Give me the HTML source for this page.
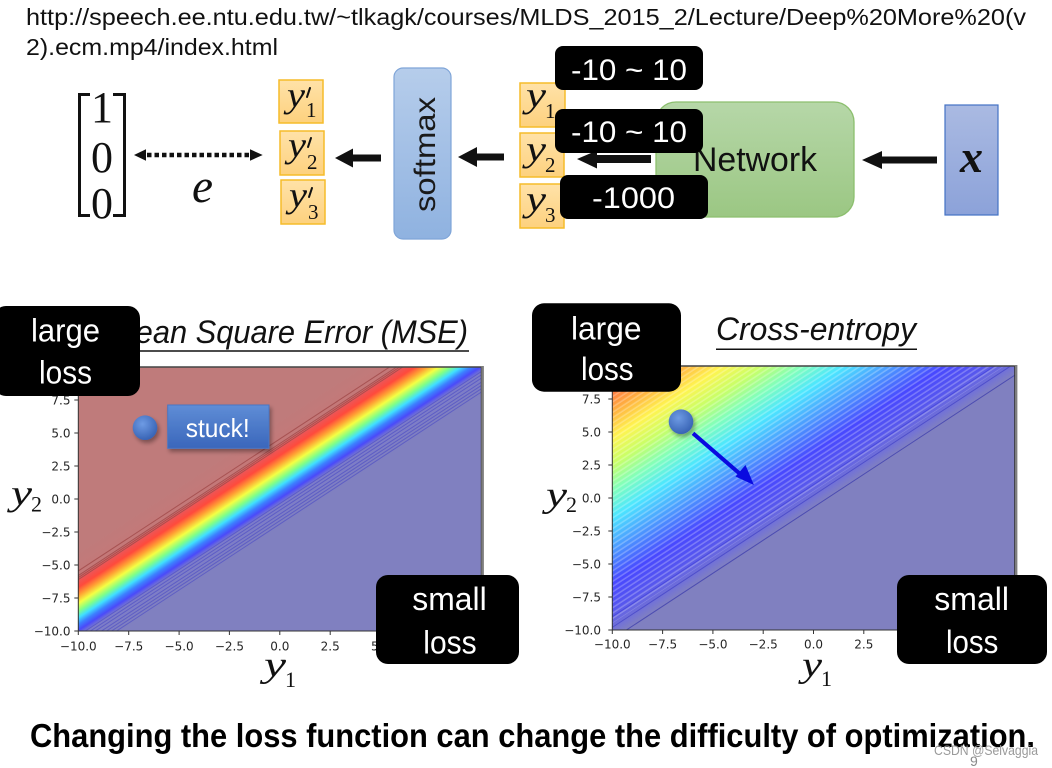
<!DOCTYPE html>
<html>
<head>
<meta charset="utf-8">
<style>
  html,body{margin:0;padding:0;background:#fff;overflow:hidden;}
  svg{display:block;}
</style>
</head>
<body>
<svg width="1052" height="768" viewBox="0 0 1052 768" xmlns="http://www.w3.org/2000/svg">
  <defs>
    <linearGradient id="gmse" gradientUnits="userSpaceOnUse" x1="1" y1="-1" x2="-3" y2="3">
      <stop offset="0" stop-color="#8080C0"/>
      <stop offset="0.2" stop-color="#7C7CCB"/>
      <stop offset="0.256" stop-color="#4A4AFA"/>
      <stop offset="0.3125" stop-color="#3C80FF"/>
      <stop offset="0.375" stop-color="#40E0FF"/>
      <stop offset="0.4375" stop-color="#80FF88"/>
      <stop offset="0.5125" stop-color="#F4FF44"/>
      <stop offset="0.5875" stop-color="#FFA034"/>
      <stop offset="0.6625" stop-color="#FF4A3C"/>
      <stop offset="0.725" stop-color="#EE5454"/>
      <stop offset="0.775" stop-color="#C47878"/>
      <stop offset="1" stop-color="#BF7B7B"/>
    </linearGradient>
    <linearGradient id="gce" gradientUnits="userSpaceOnUse" x1="1" y1="-1" x2="-11" y2="11">
      <stop offset="0" stop-color="#8080C0"/>
      <stop offset="0.054" stop-color="#8080C0"/>
      <stop offset="0.083" stop-color="#7474D4"/>
      <stop offset="0.146" stop-color="#5656EE"/>
      <stop offset="0.229" stop-color="#4848FF"/>
      <stop offset="0.333" stop-color="#4C98FF"/>
      <stop offset="0.4375" stop-color="#4CE6FF"/>
      <stop offset="0.521" stop-color="#80FFBC"/>
      <stop offset="0.604" stop-color="#C8FF68"/>
      <stop offset="0.6875" stop-color="#FFF450"/>
      <stop offset="0.771" stop-color="#FFB040"/>
      <stop offset="0.854" stop-color="#FF6C44"/>
      <stop offset="0.917" stop-color="#FF5046"/>
      <stop offset="1" stop-color="#FF4A46"/>
    </linearGradient>
    <pattern id="stripes" patternUnits="userSpaceOnUse" width="1" height="0.2828" patternTransform="rotate(45)">
      <rect x="0" y="0" width="1" height="0.1" fill="#ffffff" fill-opacity="0.25"/>
    </pattern>
    <clipPath id="clipD" clipPathUnits="userSpaceOnUse">
      <rect x="-10" y="-10" width="20" height="20"/>
    </clipPath>
    <linearGradient id="gyb" x1="0" y1="0" x2="0" y2="1">
      <stop offset="0" stop-color="#FFE2A8"/>
      <stop offset="1" stop-color="#FDD17E"/>
    </linearGradient>
    <linearGradient id="gsoft" x1="0" y1="0" x2="0" y2="1">
      <stop offset="0" stop-color="#B6CDEB"/>
      <stop offset="1" stop-color="#8FB2E0"/>
    </linearGradient>
    <linearGradient id="gnet" x1="0" y1="0" x2="0" y2="1">
      <stop offset="0" stop-color="#B6D7A8"/>
      <stop offset="1" stop-color="#9BC783"/>
    </linearGradient>
    <linearGradient id="gx" x1="0" y1="0" x2="0" y2="1">
      <stop offset="0" stop-color="#AABAE2"/>
      <stop offset="1" stop-color="#8CA2D9"/>
    </linearGradient>
    <linearGradient id="gstuck" x1="0" y1="0" x2="0" y2="1">
      <stop offset="0" stop-color="#5F8DD6"/>
      <stop offset="1" stop-color="#3A66BB"/>
    </linearGradient>
    <radialGradient id="gball" cx="0.4" cy="0.35" r="0.7">
      <stop offset="0" stop-color="#6E9BE4"/>
      <stop offset="1" stop-color="#3560B2"/>
    </radialGradient>
    <filter id="shadow" x="-50%" y="-50%" width="200%" height="200%">
      <feDropShadow dx="2" dy="3" stdDeviation="2" flood-color="#000" flood-opacity="0.35"/>
    </filter>
  </defs>

  <!-- URL -->
  <g font-family="'Liberation Sans', sans-serif" font-size="23" fill="#111">
    <text x="26" y="25" textLength="1000" lengthAdjust="spacingAndGlyphs">http://speech.ee.ntu.edu.tw/~tlkagk/courses/MLDS_2015_2/Lecture/Deep%20More%20(v</text>
    <text x="26" y="55" textLength="252" lengthAdjust="spacingAndGlyphs">2).ecm.mp4/index.html</text>
  </g>

  <!-- matrix -->
  <g stroke="#111" stroke-width="3" fill="none">
    <polyline points="90,94.5 79.5,94.5 79.5,215.5 90,215.5"/>
    <polyline points="113,94.5 124.5,94.5 124.5,215.5 113,215.5"/>
  </g>
  <g font-family="'Liberation Serif', serif" font-size="44" fill="#111" text-anchor="middle">
    <text x="102" y="122">1</text>
    <text x="102" y="172">0</text>
    <text x="102" y="218">0</text>
  </g>

  <!-- dotted double arrow -->
  <line x1="147" y1="155" x2="249" y2="155" stroke="#111" stroke-width="4.5" stroke-dasharray="4.5 3"/>
  <polygon points="134,155 146,149.3 146,160.7" fill="#111"/>
  <polygon points="262.7,155 250,149.3 250,160.7" fill="#111"/>
  <text x="192" y="202" font-family="'Liberation Serif', serif" font-style="italic" font-size="48" fill="#111" textLength="21" lengthAdjust="spacingAndGlyphs">e</text>

  <!-- y' boxes -->
  <g stroke="#F5BC2A" stroke-width="1.5" fill="url(#gyb)">
    <rect x="279" y="80" width="44" height="43"/>
    <rect x="280" y="131" width="44" height="44"/>
    <rect x="281" y="180" width="44" height="44"/>
  </g>
  <g font-family="'Liberation Serif', serif" fill="#111">
    <text x="287" y="107" font-size="36" font-style="italic" textLength="18" lengthAdjust="spacingAndGlyphs">y</text>
    <text x="306" y="117" font-size="21">1</text>
    <text x="288" y="157" font-size="36" font-style="italic" textLength="18" lengthAdjust="spacingAndGlyphs">y</text>
    <text x="307" y="169" font-size="21">2</text>
    <text x="289" y="207" font-size="36" font-style="italic" textLength="18" lengthAdjust="spacingAndGlyphs">y</text>
    <text x="308" y="219" font-size="21">3</text>
  </g>
  <g stroke="#111" stroke-width="2" stroke-linecap="round">
    <line x1="310" y1="88" x2="307" y2="97"/>
    <line x1="311" y1="138" x2="308" y2="147"/>
    <line x1="312" y1="188" x2="309" y2="197"/>
  </g>

  <!-- arrows -->
  <polygon points="335,158 353,148.5 353,167.5" fill="#111"/>
  <rect x="352" y="154.5" width="29" height="7" fill="#111"/>
  <polygon points="458,157 477,147 477,167" fill="#111"/>
  <rect x="476" y="153.5" width="28" height="7" fill="#111"/>

  <!-- softmax -->
  <rect x="394" y="68" width="57" height="171" rx="9" fill="url(#gsoft)" stroke="#7FA5D8" stroke-width="1.2"/>
  <text transform="translate(435,154.5) rotate(-90)" x="-57.5" y="0" font-family="'Liberation Sans', sans-serif" font-size="30" fill="#1a1a1a" textLength="115" lengthAdjust="spacingAndGlyphs">softmax</text>

  <!-- y boxes -->
  <g stroke="#F5BC2A" stroke-width="1.5" fill="url(#gyb)">
    <rect x="520" y="83" width="45" height="44"/>
    <rect x="520" y="133" width="44" height="44"/>
    <rect x="520" y="184" width="44" height="44"/>
  </g>
  <g font-family="'Liberation Serif', serif" fill="#111">
    <text x="526" y="107" font-size="36" font-style="italic" textLength="20" lengthAdjust="spacingAndGlyphs">y</text>
    <text x="545" y="118" font-size="21">1</text>
    <text x="526" y="161" font-size="36" font-style="italic" textLength="20" lengthAdjust="spacingAndGlyphs">y</text>
    <text x="545" y="172" font-size="21">2</text>
    <text x="526" y="211" font-size="36" font-style="italic" textLength="20" lengthAdjust="spacingAndGlyphs">y</text>
    <text x="545" y="222" font-size="21">3</text>
  </g>

  <!-- Network -->
  <rect x="656" y="102" width="198" height="115" rx="20" fill="url(#gnet)" stroke="#8CBF6E" stroke-width="1.3"/>
  <text x="693" y="171" font-family="'Liberation Sans', sans-serif" font-size="34" fill="#111" textLength="124" lengthAdjust="spacingAndGlyphs">Network</text>
  <polygon points="577,159 597,150.5 597,168.5" fill="#111"/>
  <rect x="596" y="155" width="55" height="8" fill="#111"/>
  <polygon points="862,160 882,151 882,169" fill="#111"/>
  <rect x="881" y="156.5" width="56" height="7" fill="#111"/>

  <!-- x box -->
  <rect x="945" y="105" width="53" height="110" fill="url(#gx)" stroke="#4472C4" stroke-width="1.2"/>
  <text x="960" y="172" font-family="'Liberation Serif', serif" font-style="italic" font-weight="bold" font-size="46" fill="#111">x</text>

  <!-- black labels top -->
  <g fill="#000">
    <rect x="555" y="46" width="148" height="44" rx="8"/>
    <rect x="555" y="109" width="148" height="44" rx="8"/>
    <rect x="560" y="175" width="148" height="44" rx="8"/>
  </g>
  <g font-family="'Liberation Sans', sans-serif" font-size="30" fill="#fff">
    <text x="571" y="80" textLength="116" lengthAdjust="spacingAndGlyphs">-10 ~ 10</text>
    <text x="571" y="142" textLength="116" lengthAdjust="spacingAndGlyphs">-10 ~ 10</text>
    <text x="592" y="208" textLength="83" lengthAdjust="spacingAndGlyphs">-1000</text>
  </g>

  <!-- ================= MSE plot ================= -->
  <text x="110" y="343" font-family="'Liberation Sans', sans-serif" font-style="italic" font-size="32" fill="#111" textLength="358" lengthAdjust="spacingAndGlyphs">Mean Square Error (MSE)</text>
  <line x1="110" y1="351" x2="469" y2="351" stroke="#111" stroke-width="1.5"/>

  <g transform="matrix(20.15 0 0 -13.2 279.8 499)">
    <g clip-path="url(#clipD)">
      <rect x="-10" y="-10" width="20" height="20" fill="url(#gmse)"/>
      <g stroke="#9E4646" stroke-opacity="0.75" fill="none">
        <line x1="-12" y1="-7.45" x2="12" y2="16.55" vector-effect="non-scaling-stroke"/>
        <line x1="-12" y1="-7.8" x2="12" y2="16.2" vector-effect="non-scaling-stroke"/>
        <line x1="-12" y1="-7.95" x2="12" y2="16.05" vector-effect="non-scaling-stroke"/>
        <line x1="-12" y1="-8.1" x2="12" y2="15.9" vector-effect="non-scaling-stroke"/>
      </g>
      <g stroke="#5050C4" stroke-opacity="0.7" fill="none">
        <line x1="-12" y1="-12.35" x2="12" y2="11.65" vector-effect="non-scaling-stroke"/>
        <line x1="-12" y1="-12.6" x2="12" y2="11.4" vector-effect="non-scaling-stroke"/>
        <line x1="-12" y1="-12.85" x2="12" y2="11.15" vector-effect="non-scaling-stroke"/>
        <line x1="-12" y1="-13.15" x2="12" y2="10.85" vector-effect="non-scaling-stroke"/>
        <line x1="-12" y1="-13.4" x2="12" y2="10.6" vector-effect="non-scaling-stroke"/>
        <line x1="-12" y1="-13.65" x2="12" y2="10.35" vector-effect="non-scaling-stroke"/>
        <line x1="-12" y1="-13.9" x2="12" y2="10.1" vector-effect="non-scaling-stroke"/>
      </g>
    </g>
  </g>
  <rect x="78.3" y="367" width="403" height="264" fill="none" stroke="#333" stroke-width="1"/>
  <line x1="78.3" y1="367" x2="481.3" y2="367" stroke="#444" stroke-width="1.5"/>
  <line x1="482.6" y1="366" x2="482.6" y2="632" stroke="#7e7e7e" stroke-width="2.6"/>
  <g stroke="#333" stroke-width="1">
    <line x1="74.3" y1="400" x2="78.3" y2="400"/>
    <line x1="74.3" y1="433" x2="78.3" y2="433"/>
    <line x1="74.3" y1="466" x2="78.3" y2="466"/>
    <line x1="74.3" y1="499" x2="78.3" y2="499"/>
    <line x1="74.3" y1="532" x2="78.3" y2="532"/>
    <line x1="74.3" y1="565" x2="78.3" y2="565"/>
    <line x1="74.3" y1="598" x2="78.3" y2="598"/>
    <line x1="74.3" y1="631" x2="78.3" y2="631"/>
    <line x1="78.3" y1="631" x2="78.3" y2="635"/>
    <line x1="128.7" y1="631" x2="128.7" y2="635"/>
    <line x1="179.1" y1="631" x2="179.1" y2="635"/>
    <line x1="229.4" y1="631" x2="229.4" y2="635"/>
    <line x1="279.8" y1="631" x2="279.8" y2="635"/>
    <line x1="330.2" y1="631" x2="330.2" y2="635"/>
    <line x1="380.6" y1="631" x2="380.6" y2="635"/>
  </g>
  <g font-family="'DejaVu Sans', sans-serif" font-size="12" fill="#262626" text-anchor="end">
    <text x="70.5" y="371.4">10.0</text>
    <text x="70.5" y="404.4">7.5</text>
    <text x="70.5" y="437.4">5.0</text>
    <text x="70.5" y="470.4">2.5</text>
    <text x="70.5" y="503.4">0.0</text>
    <text x="70.5" y="536.4">−2.5</text>
    <text x="70.5" y="569.4">−5.0</text>
    <text x="70.5" y="602.4">−7.5</text>
    <text x="70.5" y="635.4">−10.0</text>
  </g>
  <g font-family="'DejaVu Sans', sans-serif" font-size="12" fill="#262626" text-anchor="middle">
    <text x="78.3" y="650.4">−10.0</text>
    <text x="128.7" y="650.4">−7.5</text>
    <text x="179.1" y="650.4">−5.0</text>
    <text x="229.4" y="650.4">−2.5</text>
    <text x="279.8" y="650.4">0.0</text>
    <text x="330.2" y="650.4">2.5</text>
    <text x="380.6" y="650.4">5.0</text>
  </g>
  <g font-family="'Liberation Serif', serif" fill="#111">
    <text x="11" y="505" font-size="36" font-style="italic" textLength="21" lengthAdjust="spacingAndGlyphs">y</text>
    <text x="31" y="511.5" font-size="22">2</text>
    <text x="264" y="676.6" font-size="36" font-style="italic" textLength="22" lengthAdjust="spacingAndGlyphs">y</text>
    <text x="285" y="687" font-size="22">1</text>
  </g>

  <!-- stuck ball + box -->
  <circle cx="145" cy="427.7" r="12.3" fill="url(#gball)" filter="url(#shadow)"/>
  <rect x="167.7" y="405" width="101.3" height="43.3" fill="url(#gstuck)" stroke="#4A76C4" stroke-width="1" filter="url(#shadow)"/>
  <text x="185.7" y="437" font-family="'Liberation Sans', sans-serif" font-size="26" fill="#fff" textLength="64" lengthAdjust="spacingAndGlyphs">stuck!</text>

  <!-- ================= CE plot ================= -->
  <text x="716" y="340" font-family="'Liberation Sans', sans-serif" font-style="italic" font-size="32" fill="#111" textLength="200" lengthAdjust="spacingAndGlyphs">Cross-entropy</text>
  <line x1="716" y1="349.3" x2="917" y2="349.3" stroke="#111" stroke-width="1.5"/>

  <g transform="matrix(20.12 0 0 -13.2 813.5 498)">
    <g clip-path="url(#clipD)">
      <rect x="-10" y="-10" width="20" height="20" fill="url(#gce)"/>
      <polygon points="-10,-9.5 9.5,10 -10,10" fill="url(#stripes)"/>
      <g fill="none">
        <line x1="-12" y1="-12.7" x2="12" y2="11.3" stroke="#4646B0" stroke-opacity="0.9" vector-effect="non-scaling-stroke"/>
        <line x1="-12" y1="-11.8" x2="12" y2="12.2" stroke="#4646C8" stroke-opacity="0.8" vector-effect="non-scaling-stroke"/>
        <line x1="-12" y1="-11" x2="12" y2="13" stroke="#4444DD" stroke-opacity="0.8" vector-effect="non-scaling-stroke"/>
      </g>
    </g>
  </g>
  <rect x="612.3" y="366" width="402.4" height="264" fill="none" stroke="#333" stroke-width="1"/>
  <line x1="612.3" y1="366" x2="1014.7" y2="366" stroke="#444" stroke-width="1.5"/>
  <line x1="1016.2" y1="365" x2="1016.2" y2="631" stroke="#7e7e7e" stroke-width="2.4"/>
  <g stroke="#333" stroke-width="1">
    <line x1="608.3" y1="399" x2="612.3" y2="399"/>
    <line x1="608.3" y1="432" x2="612.3" y2="432"/>
    <line x1="608.3" y1="465" x2="612.3" y2="465"/>
    <line x1="608.3" y1="498" x2="612.3" y2="498"/>
    <line x1="608.3" y1="531" x2="612.3" y2="531"/>
    <line x1="608.3" y1="564" x2="612.3" y2="564"/>
    <line x1="608.3" y1="597" x2="612.3" y2="597"/>
    <line x1="608.3" y1="630" x2="612.3" y2="630"/>
    <line x1="612.3" y1="630" x2="612.3" y2="634"/>
    <line x1="662.6" y1="630" x2="662.6" y2="634"/>
    <line x1="712.9" y1="630" x2="712.9" y2="634"/>
    <line x1="763.2" y1="630" x2="763.2" y2="634"/>
    <line x1="813.5" y1="630" x2="813.5" y2="634"/>
    <line x1="863.8" y1="630" x2="863.8" y2="634"/>
    <line x1="914.1" y1="630" x2="914.1" y2="634"/>
  </g>
  <g font-family="'DejaVu Sans', sans-serif" font-size="12" fill="#262626" text-anchor="end">
    <text x="601" y="370.4">10.0</text>
    <text x="601" y="403.4">7.5</text>
    <text x="601" y="436.4">5.0</text>
    <text x="601" y="469.4">2.5</text>
    <text x="601" y="502.4">0.0</text>
    <text x="601" y="535.4">−2.5</text>
    <text x="601" y="568.4">−5.0</text>
    <text x="601" y="601.4">−7.5</text>
    <text x="601" y="634.4">−10.0</text>
  </g>
  <g font-family="'DejaVu Sans', sans-serif" font-size="12" fill="#262626" text-anchor="middle">
    <text x="612.3" y="648.6">−10.0</text>
    <text x="662.6" y="648.6">−7.5</text>
    <text x="712.9" y="648.6">−5.0</text>
    <text x="763.2" y="648.6">−2.5</text>
    <text x="813.5" y="648.6">0.0</text>
    <text x="863.8" y="648.6">2.5</text>
    <text x="914.1" y="648.6">5.0</text>
  </g>
  <g font-family="'Liberation Serif', serif" fill="#111">
    <text x="546" y="506.6" font-size="36" font-style="italic" textLength="21" lengthAdjust="spacingAndGlyphs">y</text>
    <text x="566" y="512" font-size="22">2</text>
    <text x="802" y="676.6" font-size="36" font-style="italic" textLength="20" lengthAdjust="spacingAndGlyphs">y</text>
    <text x="821" y="686" font-size="22">1</text>
  </g>

  <!-- CE ball + arrow -->
  <circle cx="681" cy="421.7" r="12.3" fill="url(#gball)" filter="url(#shadow)"/>
  <line x1="693" y1="433.3" x2="743" y2="476.5" stroke="#0A0AE0" stroke-width="4"/>
  <polygon points="753.9,485 735.5,476.5 745.5,465" fill="#0A0AE0"/>

  <!-- black loss boxes -->
  <g fill="#000">
    <rect x="-6" y="306" width="146" height="90" rx="12"/>
    <rect x="532" y="303.3" width="149" height="88.4" rx="12"/>
    <rect x="376" y="575" width="143" height="89" rx="12"/>
    <rect x="897" y="575" width="150" height="89" rx="12"/>
  </g>
  <g font-family="'Liberation Sans', sans-serif" font-size="32" fill="#fff">
    <text x="31" y="341.7" textLength="69" lengthAdjust="spacingAndGlyphs">large</text>
    <text x="39" y="383.3" textLength="53" lengthAdjust="spacingAndGlyphs">loss</text>
    <text x="571" y="339.3" textLength="70.5" lengthAdjust="spacingAndGlyphs">large</text>
    <text x="581" y="380" textLength="52.6" lengthAdjust="spacingAndGlyphs">loss</text>
    <text x="412.3" y="610" textLength="74.4" lengthAdjust="spacingAndGlyphs">small</text>
    <text x="423.3" y="653.3" textLength="53.4" lengthAdjust="spacingAndGlyphs">loss</text>
    <text x="934.3" y="610" textLength="74.7" lengthAdjust="spacingAndGlyphs">small</text>
    <text x="946" y="653" textLength="52.3" lengthAdjust="spacingAndGlyphs">loss</text>
  </g>

  <!-- bottom caption -->
  <text x="30" y="747" font-family="'Liberation Sans', sans-serif" font-weight="bold" font-size="33" fill="#000" textLength="1005" lengthAdjust="spacingAndGlyphs">Changing the loss function can change the difficulty of optimization.</text>
  <text x="934" y="755" font-family="'Liberation Sans', sans-serif" font-size="14" fill="#9a9a9a" textLength="104" lengthAdjust="spacingAndGlyphs">CSDN @Selvaggia</text>
  <text x="970" y="766" font-family="'Liberation Sans', sans-serif" font-size="14" fill="#8a8a8a">9</text>
</svg>
</body>
</html>
